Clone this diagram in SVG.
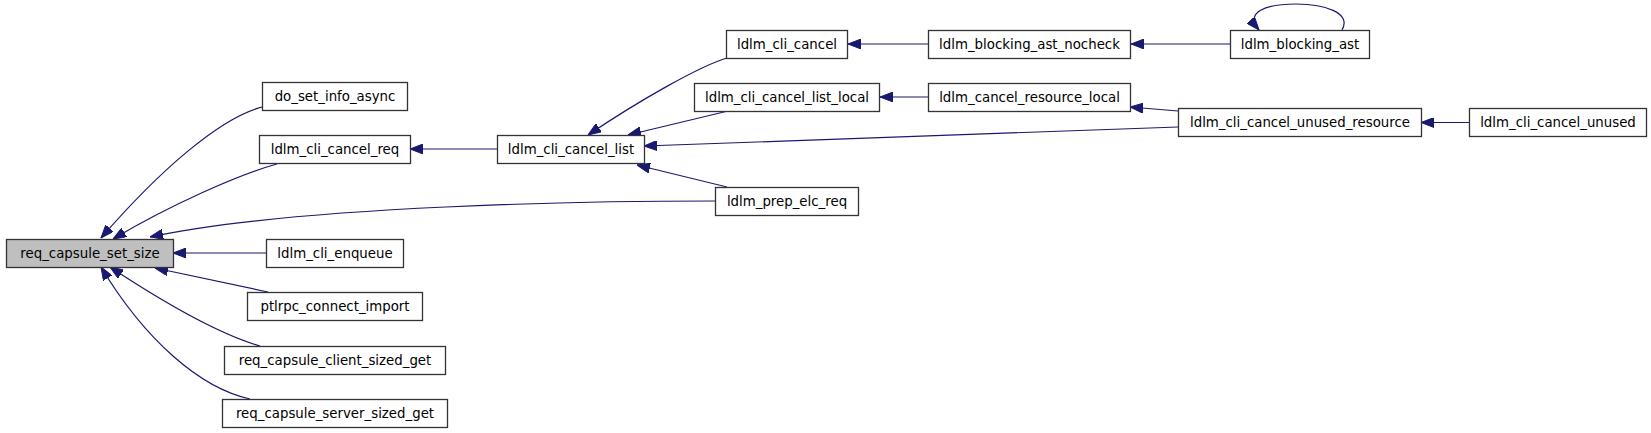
<svg xmlns="http://www.w3.org/2000/svg" width="1651" height="433" viewBox="0 0 1651 433">
<style>
.n rect{fill:#ffffff;stroke:#333333;stroke-width:1.3}
.n.root rect{fill:#bfbfbf}
.n text{font-family:"DejaVu Sans","Liberation Sans",sans-serif;font-size:13.33px;fill:#000000;text-anchor:middle}
.e path{fill:none;stroke:#191970;stroke-width:1.2;marker-end:url(#ah)}
</style>
<defs>
<marker id="ah" viewBox="0 0 13 10" refX="13" refY="5" markerWidth="13" markerHeight="10" markerUnits="userSpaceOnUse" orient="auto">
<path d="M0,0 L13,5 L0,10 z" fill="#191970" stroke="#191970" stroke-width="1"/>
</marker>
</defs>
<rect width="1651" height="433" fill="#ffffff"/>
<g id="connectors" class="e">
<path d="M262,107 C220,118 160,170 101,238"/>
<path d="M277,164 C240,174 170,205 113,239"/>
<path d="M715,201 C600,201 300,205 150,237"/>
<path d="M266,253 L173,253"/>
<path d="M268,292 L155,268"/>
<path d="M260,346 C215,333 160,300 110,267"/>
<path d="M250,399 C200,388 145,340 101,267"/>
<path d="M497,149 L410,149"/>
<path d="M727,58 C700,66 640,100 588,135"/>
<path d="M728,111 L628,135"/>
<path d="M1178,127 L644,146"/>
<path d="M727,187 L637,165"/>
<path d="M928,44 L848,44"/>
<path d="M1230,44 L1131,44"/>
<path d="M1342,30 C1352,13 1325,4 1296,4 C1266,4 1244,12 1259,30"/>
<path d="M928,97 L880,97"/>
<path d="M1178,111 L1130,107"/>
<path d="M1469,122.5 L1421,122.5"/>
</g>
<g id="req_capsule_set_size" class="n root"><rect x="6.5" y="239.5" width="167" height="28"/><text x="90" y="258">req_capsule_set_size</text></g>
<g id="do_set_info_async" class="n"><rect x="262.5" y="82.5" width="145" height="28"/><text x="335" y="101">do_set_info_async</text></g>
<g id="ldlm_cli_cancel_req" class="n"><rect x="259.5" y="135.5" width="151" height="28"/><text x="335" y="154">ldlm_cli_cancel_req</text></g>
<g id="ldlm_cli_enqueue" class="n"><rect x="266.5" y="239.5" width="137" height="28"/><text x="335" y="258">ldlm_cli_enqueue</text></g>
<g id="ptlrpc_connect_import" class="n"><rect x="247.5" y="292.5" width="175" height="28"/><text x="335" y="311">ptlrpc_connect_import</text></g>
<g id="req_capsule_client_sized_get" class="n"><rect x="224.5" y="346.5" width="221" height="28"/><text x="335" y="365">req_capsule_client_sized_get</text></g>
<g id="req_capsule_server_sized_get" class="n"><rect x="222.5" y="399.5" width="225" height="28"/><text x="335" y="418">req_capsule_server_sized_get</text></g>
<g id="ldlm_cli_cancel_list" class="n"><rect x="497.5" y="135.5" width="147" height="28"/><text x="571" y="154">ldlm_cli_cancel_list</text></g>
<g id="ldlm_cli_cancel" class="n"><rect x="726.5" y="30.5" width="121" height="28"/><text x="787" y="49">ldlm_cli_cancel</text></g>
<g id="ldlm_cli_cancel_list_local" class="n"><rect x="694.5" y="83.5" width="185" height="28"/><text x="787" y="102">ldlm_cli_cancel_list_local</text></g>
<g id="ldlm_prep_elc_req" class="n"><rect x="715.5" y="187.5" width="143" height="28"/><text x="787" y="206">ldlm_prep_elc_req</text></g>
<g id="ldlm_blocking_ast_nocheck" class="n"><rect x="928.5" y="30.5" width="202" height="28"/><text x="1029.5" y="49">ldlm_blocking_ast_nocheck</text></g>
<g id="ldlm_cancel_resource_local" class="n"><rect x="928.5" y="83.5" width="202" height="28"/><text x="1029.5" y="102">ldlm_cancel_resource_local</text></g>
<g id="ldlm_blocking_ast" class="n"><rect x="1230.5" y="30.5" width="139" height="28"/><text x="1300" y="49">ldlm_blocking_ast</text></g>
<g id="ldlm_cli_cancel_unused_resource" class="n"><rect x="1178.5" y="108.5" width="243" height="28"/><text x="1300" y="127">ldlm_cli_cancel_unused_resource</text></g>
<g id="ldlm_cli_cancel_unused" class="n"><rect x="1469.5" y="108.5" width="177" height="28"/><text x="1558" y="127">ldlm_cli_cancel_unused</text></g>
</svg>
